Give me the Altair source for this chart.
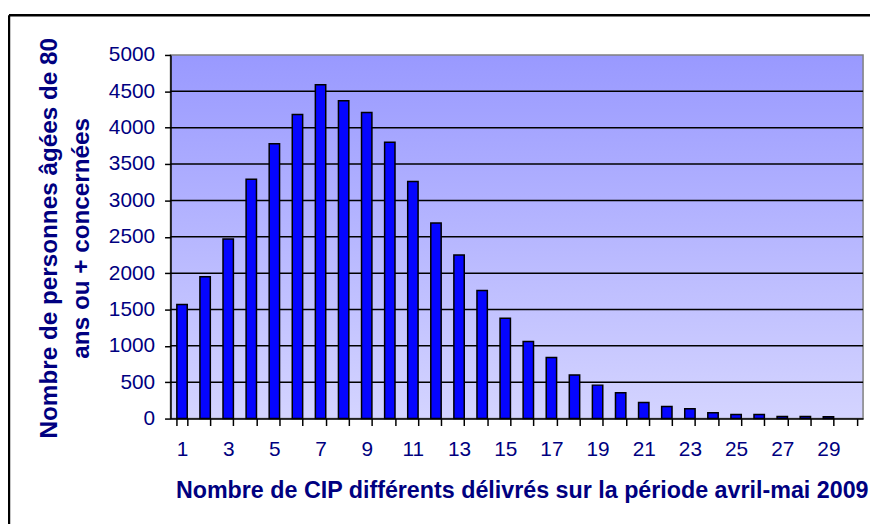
import altair as alt
import pandas as pd

# ---- data ----
categories = list(range(1, 30))
values = [1570, 1950, 2470, 3290, 3780, 4180, 4590, 4370, 4210, 3800,
          3260, 2690, 2250, 1760, 1380, 1060, 840, 600, 460, 355,
          220, 165, 135, 80, 55, 55, 30, 28, 25]
x_domain = list(range(1, 31))
y_ticks = list(range(0, 5001, 500))
grid_values = list(range(500, 5000, 500))

y_title = ["Nombre de personnes âgées de 80", "ans ou + concernées"]
x_title = "Nombre de CIP différents délivrés sur la période avril-mai 2009"

W, H = 699, 367
NAVY = "#000080"
FONT = "Liberation Sans"

df = pd.DataFrame({"cip": categories, "n": values})
one = pd.DataFrame({"a": [0]})
grid_df = pd.DataFrame({"g": grid_values})

x_scale = alt.Scale(domain=x_domain, paddingInner=0.55, paddingOuter=0.275)
y_scale = alt.Scale(domain=[0, 5000], nice=False)

y_axis = alt.Axis(
    title=y_title, titleFont=FONT, titleFontSize=24.5, titleFontWeight="bold",
    titleColor=NAVY, titleX=-122, titleY=H / 2 + 1, titleAngle=-90,
    titleAlign="center", titleBaseline="middle", titleLineHeight=32,
    values=y_ticks, format="d", labelFont=FONT, labelFontSize=21, labelColor=NAVY,
    labelPadding=10, tickSize=6, tickColor="black", tickWidth=1.5,
    domainColor="black", domainWidth=1.5, grid=False, zindex=1)

bg = alt.Chart(one).mark_rect(
    color=alt.LinearGradient(
        gradient="linear",
        stops=[alt.GradientStop(color="#9999ff", offset=0),
               alt.GradientStop(color="#d4d4ff", offset=1)],
        x1=0, x2=0, y1=0, y2=1),
    stroke="#808080", strokeWidth=1.5,
).encode(x=alt.value(0), x2=alt.value(W), y=alt.value(0), y2=alt.value(H))

grid = alt.Chart(grid_df).mark_rule(color="black", strokeWidth=1.5).encode(
    y=alt.Y("g:Q", scale=y_scale, axis=y_axis)
)

bars = alt.Chart(df).mark_bar(
    color="#0505ff", stroke="black", strokeWidth=1.5
).encode(
    x=alt.X("cip:O", scale=x_scale, sort=None,
            axis=alt.Axis(
                title=x_title, titleFont=FONT, titleFontSize=23.5, titleFontWeight="bold",
                titleColor=NAVY, titleX=W / 2 + 5, titleY=80, titleBaseline="alphabetic",
                labelFont=FONT, labelFontSize=21, labelColor=NAVY, labelAngle=0,
                labelPadding=13,
                labelExpr="datum.value % 2 == 1 ? datum.label : ''",
                tickBand="extent", tickSize=7, tickColor="black", tickWidth=1.5,
                domainColor="black", domainWidth=1.5, zindex=1)),
    y=alt.Y("n:Q", scale=y_scale, axis=y_axis),
)

border_h = alt.Chart(one).mark_rule(color="black", strokeWidth=2.5).encode(
    x=alt.value(-163), x2=alt.value(W + 10), y=alt.value(-40)
)
border_v = alt.Chart(one).mark_rule(color="black", strokeWidth=2.5).encode(
    x=alt.value(-163), y=alt.value(-40), y2=alt.value(H + 110)
)

chart = alt.layer(bg, grid, bars, border_h, border_v).properties(
    width=W, height=H,
    padding={"left": 164, "top": 45, "right": 7, "bottom": 104},
    autosize=alt.AutoSizeParams(type="none"),
    background="white",
).configure_view(stroke=None)

chart.save("out.html", embed_options={"renderer": "svg", "actions": False})
